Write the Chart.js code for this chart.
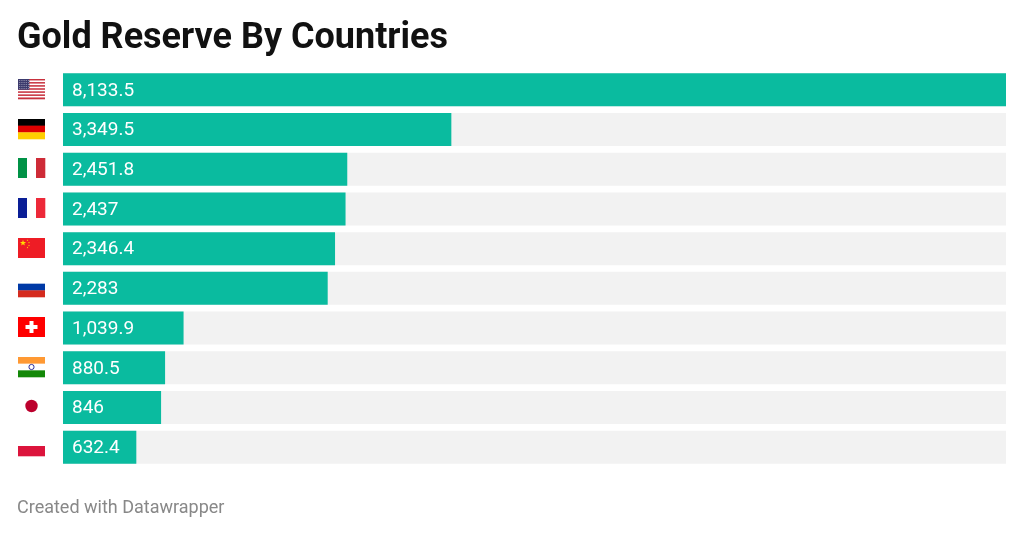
<!DOCTYPE html>
<html>
<head>
<meta charset="utf-8">
<script src="https://cdn.jsdelivr.net/npm/chart.js@4"></script>
<style>
  html, body { margin: 0; padding: 0; background: #fff; }
  #wrap { position: relative; width: 1024px; height: 535px; overflow: hidden; }
  #titulo {
    position: absolute; left: 17px; top: 18px;
    font: bold 36px Roboto, sans-serif; line-height: 1; color: #111;
  }
  #pie {
    position: absolute; left: 17px; top: 498px;
    font: 18px Roboto, sans-serif; line-height: 1; color: #888;
  }
  #graf { position: absolute; left: 0; top: 0; }
</style>
</head>
<body>
<div id="wrap">
  <canvas id="graf" width="1024" height="535"></canvas>
  <div id="titulo">Gold Reserve By Countries</div>
  <div id="pie">Created with Datawrapper</div>
</div>
<script>
const paises = ['United States', 'Germany', 'Italy', 'France', 'China', 'Russia', 'Switzerland', 'India', 'Japan', 'Poland'];
const codigos = ['us', 'de', 'it', 'fr', 'cn', 'ru', 'ch', 'in', 'jp', 'pl'];
const toneladas = [8133.5, 3349.5, 2451.8, 2437, 2346.4, 2283, 1039.9, 880.5, 846, 632.4];

const maximo = Math.max(...toneladas);
const fondo = toneladas.map(() => maximo);

// banderas dibujadas a mano, sin imagenes
function franjasH(ctx, x, y, w, h, colores) {
  const s = h / colores.length;
  colores.forEach((c, i) => {
    ctx.fillStyle = c;
    ctx.fillRect(x, y + i * s, w, s + 0.3);
  });
}
function franjasV(ctx, x, y, w, h, colores) {
  const s = w / colores.length;
  colores.forEach((c, i) => {
    ctx.fillStyle = c;
    ctx.fillRect(x + i * s, y, s + 0.3, h);
  });
}
function estrella(ctx, cx, cy, r) {
  ctx.beginPath();
  for (let i = 0; i < 10; i++) {
    const a = -Math.PI / 2 + i * Math.PI / 5;
    const rr = i % 2 ? r * 0.4 : r;
    ctx.lineTo(cx + rr * Math.cos(a), cy + rr * Math.sin(a));
  }
  ctx.closePath();
  ctx.fill();
}

function bandera(ctx, code, x, y, w, h) {
  switch (code) {
    case 'us': {
      const rayas = [];
      for (let i = 0; i < 13; i++) rayas.push(i % 2 ? '#ffffff' : '#c8313e');
      franjasH(ctx, x, y, w, h, rayas);
      ctx.fillStyle = '#3c3b6e';
      ctx.fillRect(x, y, w * 0.42, h * 7 / 13);
      ctx.fillStyle = 'rgba(255,255,255,0.6)';
      for (let r = 0; r < 5; r++) {
        for (let c = 0; c < 6; c++) {
          ctx.fillRect(x + 1 + c * 1.8, y + 1 + r * 2, 0.8, 0.8);
        }
      }
      break;
    }
    case 'de': franjasH(ctx, x, y, w, h, ['#000000', '#dd0000', '#ffce00']); break;
    case 'it': franjasV(ctx, x, y, w, h, ['#009246', '#ffffff', '#ce2b37']); break;
    case 'fr': franjasV(ctx, x, y, w, h, ['#0a1e96', '#ffffff', '#ed2939']); break;
    case 'cn': {
      ctx.fillStyle = '#ee1c25';
      ctx.fillRect(x, y, w, h);
      ctx.fillStyle = '#ffde00';
      estrella(ctx, x + 5, y + 5, 3.2);
      estrella(ctx, x + 9.5, y + 2.2, 1);
      estrella(ctx, x + 11, y + 4.5, 1);
      estrella(ctx, x + 11, y + 7.5, 1);
      estrella(ctx, x + 9.5, y + 9.5, 1);
      break;
    }
    case 'ru': franjasH(ctx, x, y, w, h, ['#ffffff', '#0039a6', '#d52b1e']); break;
    case 'ch': {
      ctx.fillStyle = '#ff0000';
      ctx.fillRect(x, y, w, h);
      ctx.fillStyle = '#ffffff';
      const cx = x + w / 2, cy = y + h / 2;
      ctx.fillRect(cx - 6, cy - 2, 12, 4);
      ctx.fillRect(cx - 2, cy - 6, 4, 12);
      break;
    }
    case 'in': {
      franjasH(ctx, x, y, w, h, ['#ff9933', '#ffffff', '#138808']);
      ctx.strokeStyle = '#000080';
      ctx.lineWidth = 0.8;
      ctx.beginPath();
      ctx.arc(x + w / 2, y + h / 2, 2.6, 0, Math.PI * 2);
      ctx.stroke();
      break;
    }
    case 'jp': {
      ctx.fillStyle = '#bc002d';
      ctx.beginPath();
      ctx.arc(x + w / 2, y + h / 2, 6.2, 0, Math.PI * 2);
      ctx.fill();
      break;
    }
    case 'pl': franjasH(ctx, x, y, w, h, ['#ffffff', '#dc143c']); break;
  }
}

const pluginBanderas = {
  id: 'banderas',
  afterDraw(chart) {
    const ctx = chart.ctx;
    const yScale = chart.scales.y;
    ctx.save();
    codigos.forEach((c, i) => {
      const cy = yScale.getPixelForValue(i);
      bandera(ctx, c, 18, Math.round(cy - 11), 27, 20);
    });
    ctx.restore();
  }
};

const pluginValores = {
  id: 'valores',
  afterDatasetsDraw(chart) {
    const ctx = chart.ctx;
    const meta = chart.getDatasetMeta(0);
    ctx.save();
    ctx.font = '19px Roboto, sans-serif';
    ctx.fillStyle = '#ffffff';
    ctx.textBaseline = 'middle';
    ctx.textAlign = 'left';
    meta.data.forEach((bar, i) => {
      ctx.fillText(toneladas[i].toLocaleString('en-US'), bar.base + 9, bar.y + 1);
    });
    ctx.restore();
  }
};

new Chart(document.getElementById('graf'), {
  type: 'bar',
  data: {
    labels: paises,
    datasets: [
      {
        label: 'Tonnes',
        data: toneladas,
        backgroundColor: '#0abb9f',
        barPercentage: 1,
        categoryPercentage: 0.832
      },
      {
        label: 'fondo',
        data: fondo,
        backgroundColor: '#f2f2f2',
        barPercentage: 1,
        categoryPercentage: 0.832
      }
    ]
  },
  options: {
    indexAxis: 'y',
    responsive: false,
    animation: false,
    layout: {
      padding: { left: 63, right: 18, top: 70, bottom: 68 }
    },
    scales: {
      x: {
        display: false,
        min: 0,
        max: maximo
      },
      y: {
        display: false,
        stacked: false
      }
    },
    datasets: {
      bar: { grouped: false }
    },
    plugins: {
      legend: { display: false },
      tooltip: {
        filter: item => item.datasetIndex === 0,
        callbacks: {
          label: item => `${item.label}: ${item.raw.toLocaleString('en-US')} t`
        }
      }
    }
  },
  plugins: [pluginBanderas, pluginValores]
});
</script>
</body>
</html>
